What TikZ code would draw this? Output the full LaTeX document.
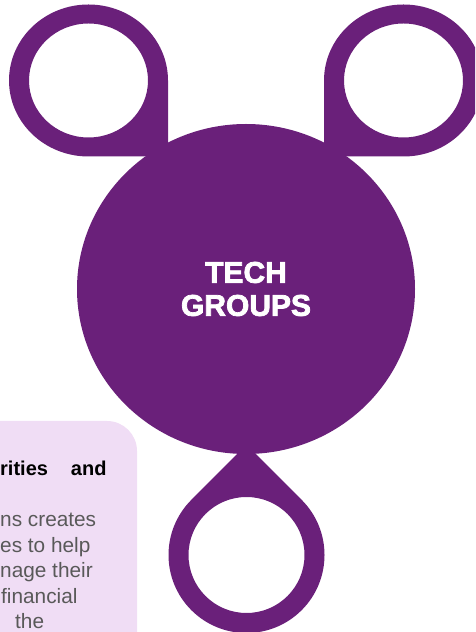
\documentclass[tikz,border=0pt]{standalone}
\usepackage{fontspec}
\setmainfont{Liberation Sans}
\newfontfamily\titlefont[FakeBold=2.5]{Liberation Sans Bold}
\usepackage{xcolor}
\usetikzlibrary{positioning}

\definecolor{techpurple}{RGB}{106,32,122}
\definecolor{notelilac}{RGB}{240,221,245}
\definecolor{notegray}{RGB}{89,89,89}

\tikzset{
    blob/.style={fill=techpurple, even odd rule},
    notebox/.style={fill=notelilac, rounded corners=30pt},
    notehead/.style={anchor=base west, inner sep=0pt, font=\fontsize{20}{24}\selectfont\bfseries},
    noteline/.style={anchor=base west, inner sep=0pt, text=notegray, font=\fontsize{20.8}{25}\selectfont}
}

\begin{document}
\begin{tikzpicture}[x=1pt, y=1pt]
        \useasboundingbox (0,0) rectangle (475,632);
        \clip (0,0) rectangle (475,632);

        \fill[notebox] (-40,-40) rectangle (137,211);

        \fill[blob] (88.5,627.5) arc[start angle=90, end angle=270, x radius=79.5, y radius=76]
            -- (168,475.5) -- (168,551.5)
            arc[start angle=0, end angle=90, x radius=79.5, y radius=76] -- cycle
            (88.5,551.5) ellipse[x radius=59.5, y radius=57];
        \fill[blob] (403.5,627.5) arc[start angle=90, end angle=-90, x radius=79.5, y radius=76]
            -- (324,475.5) -- (324,551.5)
            arc[start angle=180, end angle=90, x radius=79.5, y radius=76] -- cycle
            (403.5,551.5) ellipse[x radius=59.5, y radius=57];
        \fill[blob] (246.5,187.3) -- (191.35,132.15)
            arc[start angle=135, end angle=405, radius=78] -- cycle
            (246.5,77) circle[radius=58];
        \fill[blob] (246,343) ellipse[x radius=169, y radius=165];

        \node[align=center, text=white, inner sep=0pt, font=\fontsize{30}{33}\selectfont\titlefont] (title) at (246,343) {TECH\\GROUPS};

        \node[notehead] (head) at (0,156) {rities\hspace{23pt}and};
        \node[noteline] (l1) at (0,105) {ns creates};
        \node[noteline] (l2) at (0,79.5) {es to help};
        \node[noteline] (l3) at (0,54) {nage their};
        \node[noteline] (l4) at (1,28.5) {financial};
        \node[noteline] (l5) at (15,3) {the};
    \end{tikzpicture}
\end{document}
